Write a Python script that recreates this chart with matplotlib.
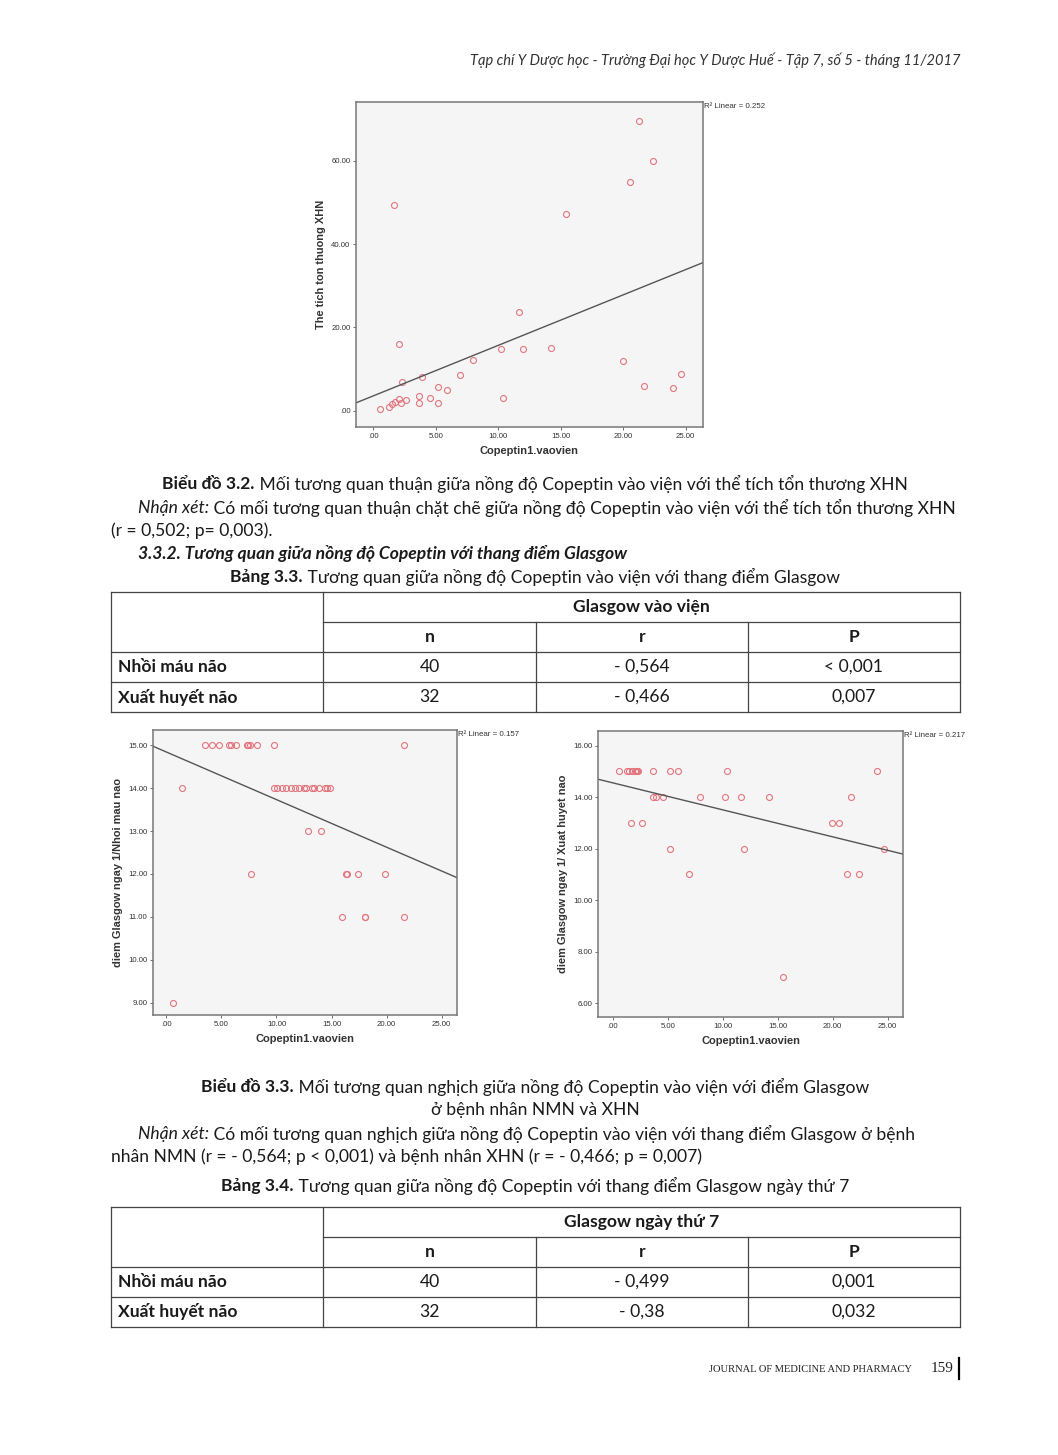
import numpy as np
import matplotlib
matplotlib.use('Agg')
import matplotlib.pyplot as plt
from matplotlib.ticker import FuncFormatter, MultipleLocator

W, H = 1058, 1455
BODY = ['Lato', 'Noto Sans', 'DejaVu Sans']
SERIF = ['Liberation Serif', 'DejaVu Serif']
CHART = ['Liberation Sans', 'DejaVu Sans']

# ---- du lieu (doc tu hinh) ----
# XHN: Copeptin vao vien, the tich ton thuong, Glasgow ngay 1
xhn_copeptin = [0.53, 1.28, 1.47, 1.65, 1.73, 2.03, 2.05, 2.19, 2.29, 2.61,
                3.68, 3.68, 3.92, 4.56, 5.17, 5.17, 5.89, 6.96, 7.95, 10.19,
                10.40, 11.63, 11.95, 14.19, 15.44, 19.97, 20.53, 21.31, 21.68, 22.40,
                24.00, 24.67]
xhn_volume = [0.4, 0.96, 1.52, 49.5, 2.08, 16.0, 2.8, 1.76, 6.88, 2.64,
              3.6, 1.76, 8.08, 2.96, 1.84, 5.6, 5.04, 8.64, 12.24, 14.8,
              3.04, 23.76, 14.8, 14.96, 47.3, 12.0, 54.9, 69.5, 6.0, 60.0,
              5.52, 8.72]
xhn_glasgow = [15, 15, 15, 13, 15, 15, 15, 15, 15, 13,
               15, 14, 14, 14, 15, 12, 15, 11, 14, 14,
               15, 14, 12, 14, 7, 13, 13, 11, 14, 11,
               15, 12]

# NMN: Copeptin vao vien, Glasgow ngay 1
nmn_copeptin = [3.49, 4.10, 4.77, 5.68, 5.86, 6.28, 7.29, 7.44, 7.60, 8.20, 9.81, 21.55,
                1.40, 9.73, 10.09, 10.49, 10.88, 11.28, 11.67, 12.07, 12.46, 12.64,
                13.22, 13.37, 13.83, 14.44, 14.59, 14.89,
                12.83, 14.04,
                7.72, 16.35, 16.45, 17.36, 19.85,
                15.93, 18.00, 18.05, 21.55,
                0.58]
nmn_glasgow = [15] * 12 + [14] * 16 + [13] * 2 + [12] * 5 + [11] * 4 + [9]

r2_labels = ['0.252', '0.157', '0.217']

header_text = 'Tạp chí Y Dược học - Trường Đại học Y Dược Huế - Tập 7, số 5 - tháng 11/2017'
row_labels = ['Nhồi máu não', 'Xuất huyết não']
col_labels = ['n', 'r', 'P']
t33_title = 'Glasgow vào viện'
t33_values = [['40', '- 0,564', '< 0,001'], ['32', '- 0,466', '0,007']]
t34_title = 'Glasgow ngày thứ 7'
t34_values = [['40', '- 0,499', '0,001'], ['32', '- 0,38', '0,032']]

fig = plt.figure(figsize=(W / 100, H / 100), dpi=100)
fig.patch.set_facecolor('white')
page = fig.add_axes([0, 0, 1, 1])
page.set_xlim(0, W)
page.set_ylim(H, 0)
page.axis('off')
renderer = fig.canvas.get_renderer()

FS = 12.6


def line(parts, x, y, size=FS, center=False):
    # parts: (text, weight, style)
    texts = []
    cur = 0.0
    for s, w, st in parts:
        t = page.text(x + cur, y, s, fontsize=size, fontweight=w, fontstyle=st,
                      family=BODY, va='center', ha='left', color='#1a1a1a')
        cur += t.get_window_extent(renderer).width
        texts.append(t)
    if center:
        x0 = x - cur / 2
        off = 0.0
        for t in texts:
            t.set_x(x0 + off)
            off += t.get_window_extent(renderer).width


# header / footer
page.text(960, 60, header_text, fontsize=10.5, fontstyle='italic', family=BODY,
          ha='right', va='center', color='#333333')
page.text(912, 1370, 'JOURNAL OF MEDICINE AND PHARMACY', fontsize=7.6, family=SERIF,
          ha='right', va='center', color='#222222')
page.text(954, 1369, '159', fontsize=11, family=SERIF, ha='right', va='center', color='#222222')
page.plot([959, 959], [1358, 1379], color='black', lw=1.6)

# text blocks
line([('Biểu đồ 3.2.', 'bold', 'normal'),
      (' Mối tương quan thuận giữa nồng độ Copeptin vào viện với thể tích tổn thương XHN', 'normal', 'normal')],
     535, 484, center=True)
line([('Nhận xét:', 'normal', 'italic'),
      (' Có mối tương quan thuận chặt chẽ giữa nồng độ Copeptin vào viện với thể tích tổn thương XHN', 'normal', 'normal')],
     138, 508)
line([('(r = 0,502; p= 0,003).', 'normal', 'normal')], 111, 531)
line([('3.3.2. Tương quan giữa nồng độ Copeptin với thang điểm Glasgow', 'bold', 'italic')], 138, 554)
line([('Bảng 3.3.', 'bold', 'normal'),
      (' Tương quan giữa nồng độ Copeptin vào viện với thang điểm Glasgow', 'normal', 'normal')],
     535, 577, center=True)

line([('Biểu đồ 3.3.', 'bold', 'normal'),
      (' Mối tương quan nghịch giữa nồng độ Copeptin vào viện với điểm Glasgow', 'normal', 'normal')],
     535, 1087, center=True)
line([('ở bệnh nhân NMN và XHN', 'normal', 'normal')], 535, 1110, center=True)
line([('Nhận xét:', 'normal', 'italic'),
      (' Có mối tương quan nghịch giữa nồng độ Copeptin vào viện với thang điểm Glasgow ở bệnh', 'normal', 'normal')],
     138, 1134)
line([('nhân NMN (r = - 0,564; p < 0,001) và bệnh nhân XHN (r = - 0,466; p = 0,007)', 'normal', 'normal')],
     111, 1157)
line([('Bảng 3.4.', 'bold', 'normal'),
      (' Tương quan giữa nồng độ Copeptin với thang điểm Glasgow ngày thứ 7', 'normal', 'normal')],
     535, 1186, center=True)


def table(top, title, values):
    cols = [111, 323, 536, 748, 960]
    rows = [top, top + 30, top + 60, top + 90, top + 120]
    lc, lw = '#444444', 0.9
    for i, yy in enumerate(rows):
        x0 = cols[1] if i == 1 else cols[0]
        page.plot([x0, cols[-1]], [yy, yy], color=lc, lw=lw)
    for j, xx in enumerate(cols):
        y0 = rows[1] if j in (2, 3) else rows[0]
        page.plot([xx, xx], [y0, rows[-1]], color=lc, lw=lw)
    page.text((cols[1] + cols[4]) / 2, (rows[0] + rows[1]) / 2, title, fontsize=FS,
              fontweight='bold', family=BODY, ha='center', va='center', color='#1a1a1a')
    for j, c in enumerate(col_labels):
        page.text((cols[j + 1] + cols[j + 2]) / 2, (rows[1] + rows[2]) / 2, c, fontsize=FS,
                  fontweight='bold', family=BODY, ha='center', va='center', color='#1a1a1a')
    for i, lab in enumerate(row_labels):
        yc = (rows[i + 2] + rows[i + 3]) / 2
        page.text(118, yc, lab, fontsize=FS, fontweight='bold', family=BODY,
                  ha='left', va='center', color='#1a1a1a')
        for j, v in enumerate(values[i]):
            page.text((cols[j + 1] + cols[j + 2]) / 2, yc, v, fontsize=FS, family=BODY,
                      ha='center', va='center', color='#1a1a1a')


table(592, t33_title, t33_values)
table(1207, t34_title, t34_values)


def fmt(v, pos):
    s = '%.2f' % v
    return s[1:] if s.startswith('0') else s


def scatter(rect, x, y, xlim, ylim, ystep, ylabel, r2):
    l, t, r, b = rect
    ax = fig.add_axes([l / W, 1 - b / H, (r - l) / W, (b - t) / H])
    ax.set_facecolor('#f5f5f5')
    ax.plot(x, y, 'o', ms=4.3, mfc='none', mec='#e4747d', mew=0.8)
    k, c = np.polyfit(x, y, 1)
    xs = np.array(xlim)
    ax.plot(xs, k * xs + c, color='#555555', lw=1.0)
    ax.set_xlim(xlim)
    ax.set_ylim(ylim)
    ax.xaxis.set_major_locator(MultipleLocator(5))
    ax.yaxis.set_major_locator(MultipleLocator(ystep))
    ax.xaxis.set_major_formatter(FuncFormatter(fmt))
    ax.yaxis.set_major_formatter(FuncFormatter(fmt))
    ax.tick_params(labelsize=5.6, length=2.5, width=0.6, color='#555555',
                   labelcolor='#333333', pad=1.5)
    for lab in ax.get_xticklabels() + ax.get_yticklabels():
        lab.set_family(CHART)
    for sp in ax.spines.values():
        sp.set_color('#777777')
        sp.set_linewidth(1.1)
    ax.set_xlabel('Copeptin1.vaovien', fontsize=8.0, fontweight='bold', family=CHART,
                  color='#333333', labelpad=5)
    ax.set_ylabel(ylabel, fontsize=7.9, fontweight='bold', family=CHART,
                  color='#333333', labelpad=4)
    ax.text(1.002, 0.985, 'R² Linear = ' + r2, transform=ax.transAxes, fontsize=5.7,
            family=CHART, ha='left', va='center', color='#333333')
    return ax


scatter((356, 102, 703, 427), xhn_copeptin, xhn_volume, (-1.39, 26.4), (-3.9, 74.1), 20,
        'The tich ton thuong XHN', r2_labels[0])
scatter((153, 730, 457, 1015), nmn_copeptin, nmn_glasgow, (-1.22, 26.4), (8.71, 15.36), 1,
        'diem Glasgow ngay 1/Nhoi mau nao', r2_labels[1])
scatter((598, 731, 903, 1017), xhn_copeptin, xhn_glasgow, (-1.37, 26.4), (5.46, 16.57), 2,
        'diem Glasgow ngay 1/ Xuat huyet nao', r2_labels[2])

fig.savefig('out.png', dpi=100, facecolor='white')
